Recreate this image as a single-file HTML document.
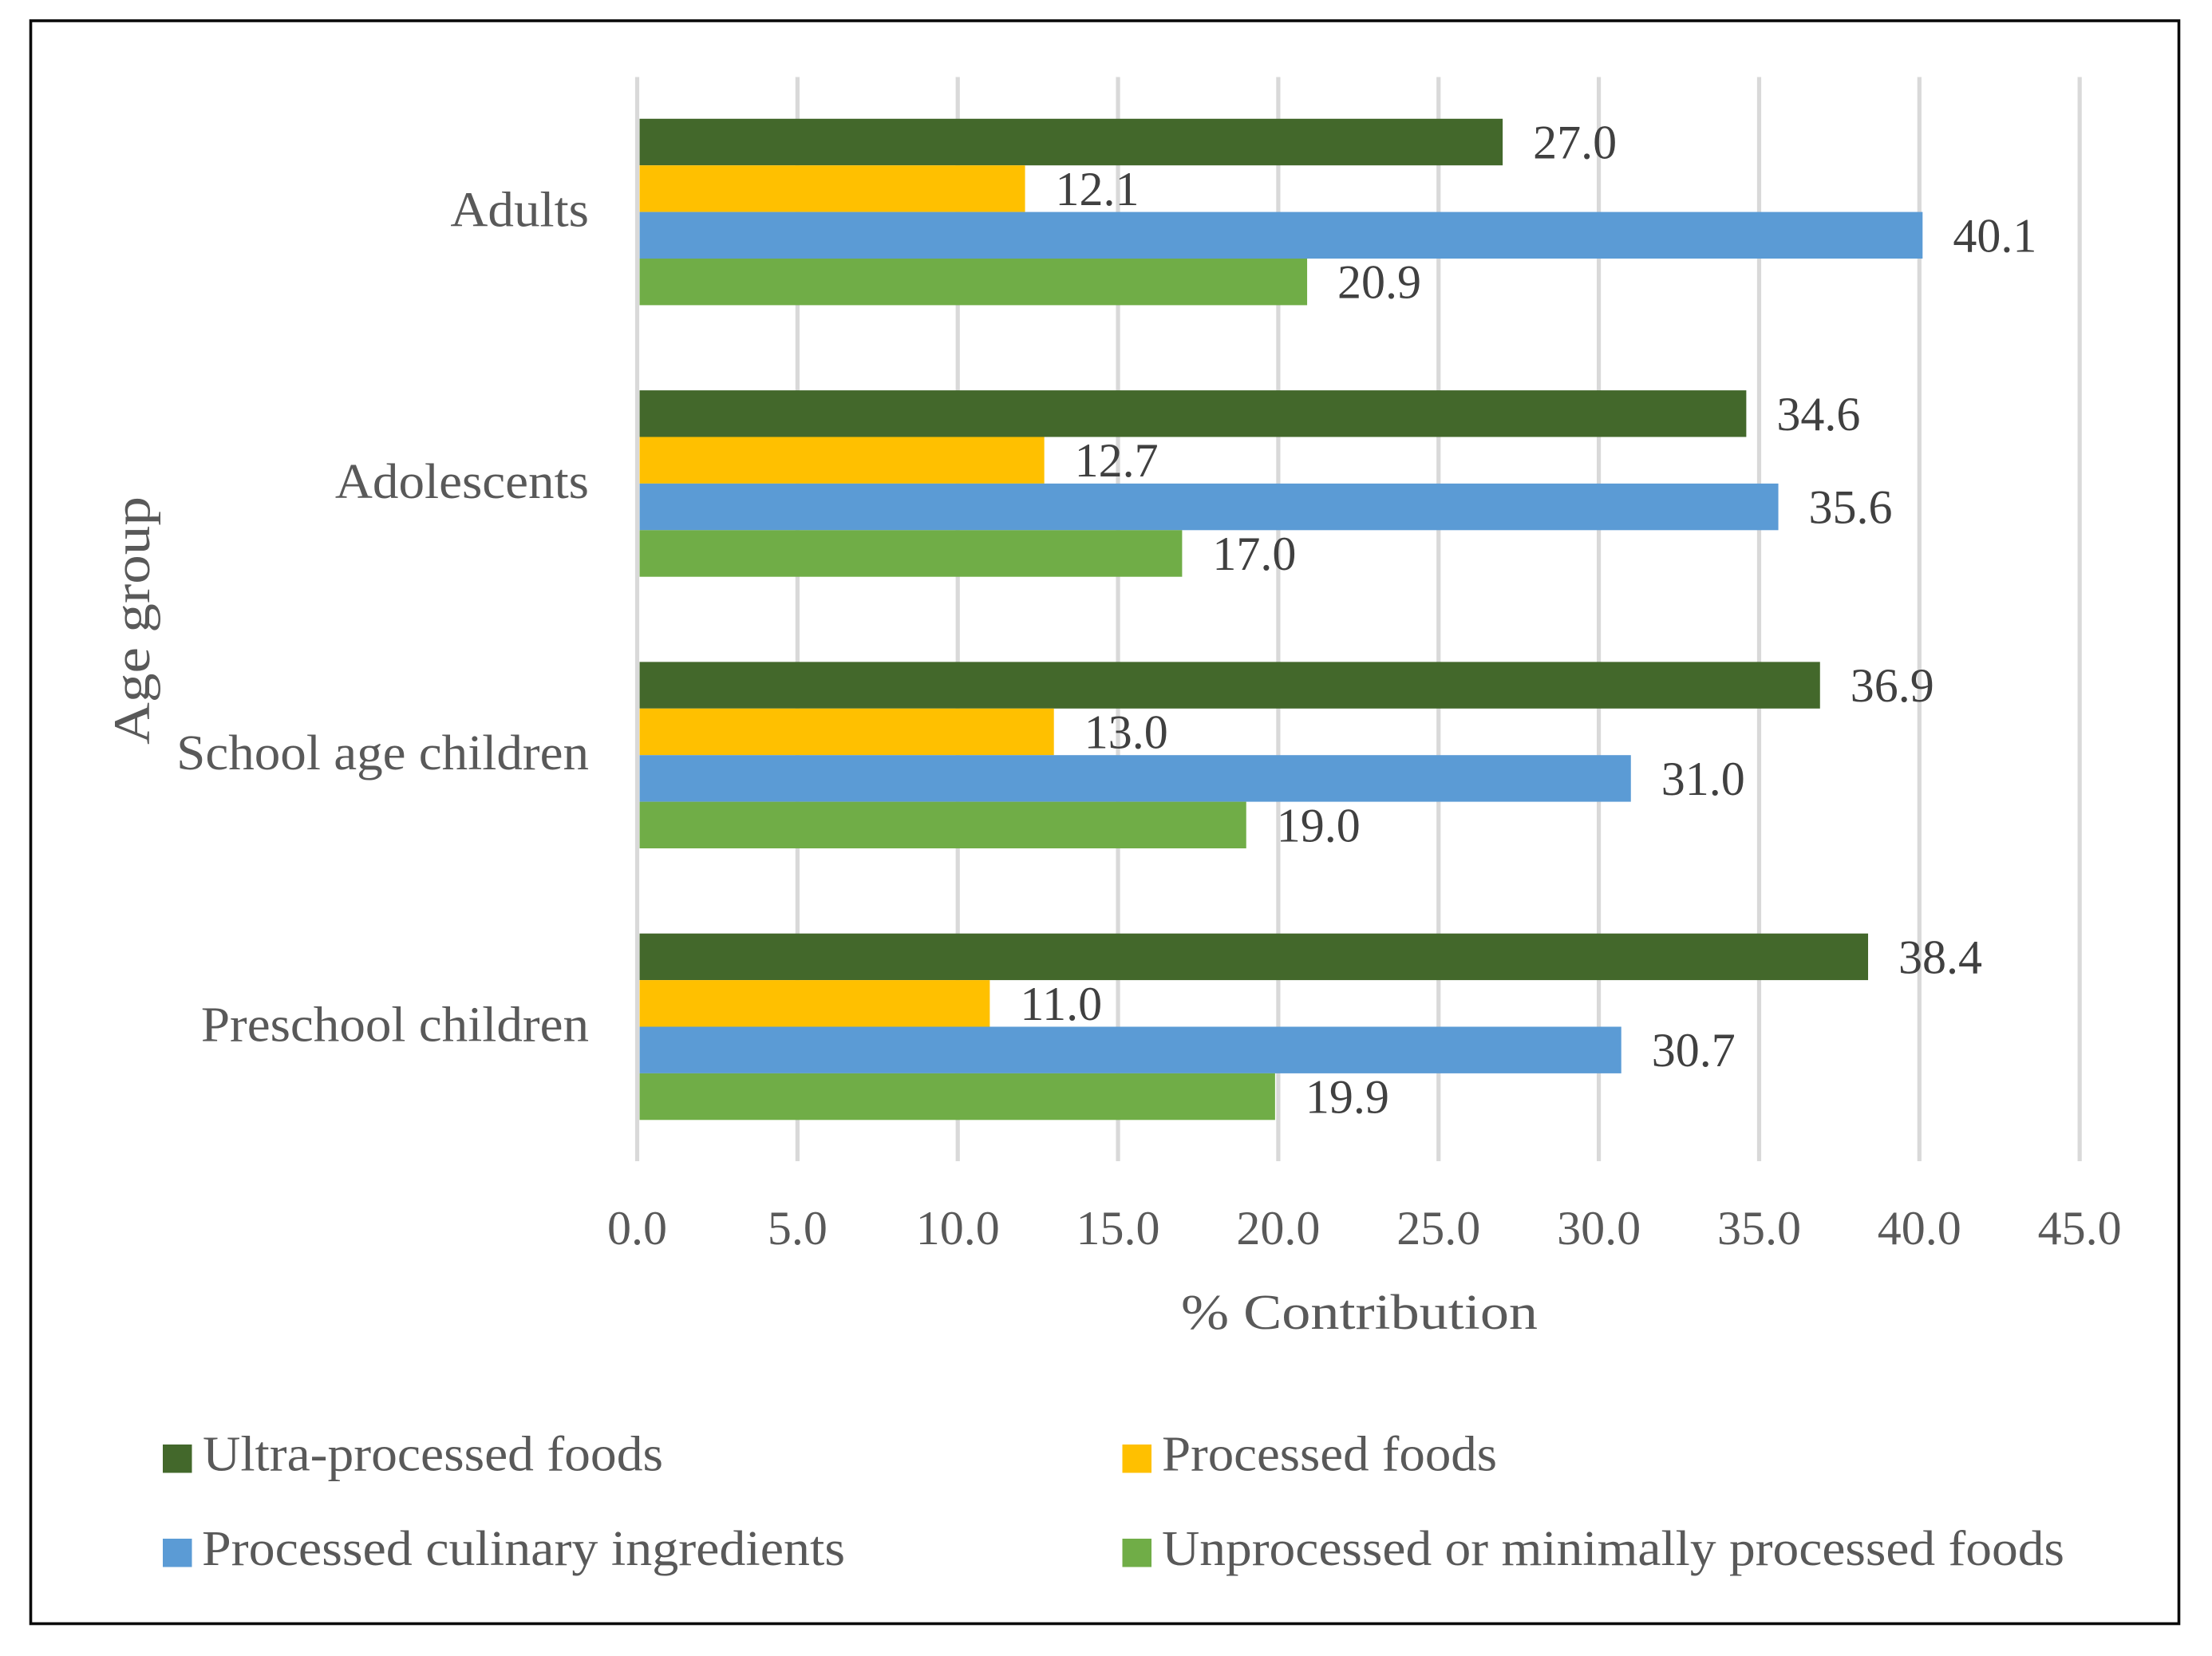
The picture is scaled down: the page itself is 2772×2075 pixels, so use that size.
<!DOCTYPE html>
<html lang="en">
<head>
<meta charset="utf-8">
<title>Percent contribution by age group</title>
<style>
html,body{margin:0;padding:0;background:#fff;}
svg{display:block;}
text{font-family:"Liberation Serif",serif;}
</style>
</head>
<body>
<svg id="chart" xmlns="http://www.w3.org/2000/svg" width="2772" height="2075" viewBox="0 0 2772 2075">
  <rect x="0" y="0" width="2772" height="2075" fill="#ffffff"/>
  <rect x="38.5" y="26" width="2692" height="2008.5" fill="none" stroke="#0a0a0a" stroke-width="3.6"/>
  <g id="grid"></g>
  <g id="bars"></g>
  <g id="values"></g>
  <g id="cats"></g>
  <g id="ticks"></g>
  <text x="1480" y="1665" font-size="62" fill="#595959" textLength="447" lengthAdjust="spacingAndGlyphs">% Contribution</text>
  <text transform="translate(187,933) rotate(-90)" font-size="65" fill="#595959" textLength="311" lengthAdjust="spacingAndGlyphs">Age group</text>
  <g>
    <rect x="204" y="1810" width="36.5" height="35.5" fill="#43682B"/>
    <text x="254" y="1842.5" font-size="62" fill="#595959" textLength="577" lengthAdjust="spacingAndGlyphs">Ultra-processed foods</text>
    <rect x="1406.5" y="1810" width="36.5" height="35.5" fill="#FFC000"/>
    <text x="1456" y="1842.5" font-size="62" fill="#595959" textLength="420" lengthAdjust="spacingAndGlyphs">Processed foods</text>
    <rect x="204" y="1928" width="36.5" height="35.5" fill="#5B9BD5"/>
    <text x="253" y="1961" font-size="62" fill="#595959" textLength="806" lengthAdjust="spacingAndGlyphs">Processed culinary ingredients</text>
    <rect x="1406.5" y="1928" width="36.5" height="35.5" fill="#70AD47"/>
    <text x="1456" y="1961" font-size="62" fill="#595959" textLength="1131" lengthAdjust="spacingAndGlyphs">Unprocessed or minimally processed foods</text>
  </g>
</svg>
<script>
const categories = ["Adults", "Adolescents", "School age children", "Preschool children"];
const ultraProcessed = [27.0, 34.6, 36.9, 38.4];
const processed = [12.1, 12.7, 13.0, 11.0];
const culinary = [40.1, 35.6, 31.0, 30.7];
const unprocessed = [20.9, 17.0, 19.0, 19.9];
const xTicks = [0, 5, 10, 15, 20, 25, 30, 35, 40, 45];

const NS = "http://www.w3.org/2000/svg";
const seriesList = [ultraProcessed, processed, culinary, unprocessed];
const seriesColors = ["#43682B", "#FFC000", "#5B9BD5", "#70AD47"];
const seriesKeys = ["ultra-processed", "processed", "culinary", "unprocessed"];

function xScale(v) { return 798.5 + v * 40.17; }
function groupTop(i) { return 148.8 + i * 340.3; }
const barHeight = 58.4;
const barInset = 3;

const gridG = document.getElementById("grid");
const ticksG = document.getElementById("ticks");
xTicks.forEach(function (t) {
  const line = document.createElementNS(NS, "rect");
  line.setAttribute("x", xScale(t) - 2.6);
  line.setAttribute("y", 96.5);
  line.setAttribute("width", 5.2);
  line.setAttribute("height", 1358.5);
  line.setAttribute("fill", "#D9D9D9");
  
  
  gridG.appendChild(line);

  const label = document.createElementNS(NS, "text");
  label.setAttribute("x", xScale(t));
  label.setAttribute("y", 1559);
  label.setAttribute("text-anchor", "middle");
  label.setAttribute("font-size", 60);
  label.setAttribute("fill", "#595959");
  label.textContent = t.toFixed(1);
  
  
  ticksG.appendChild(label);
});

const barsG = document.getElementById("bars");
const valuesG = document.getElementById("values");
const catsG = document.getElementById("cats");
categories.forEach(function (cat, i) {
  const catLabel = document.createElementNS(NS, "text");
  const catY = groupTop(i) + 2 * barHeight + 18;
  catLabel.setAttribute("transform", "translate(738," + catY + ") scale(1.05,1)");
  catLabel.setAttribute("text-anchor", "end");
  catLabel.setAttribute("font-size", 62);
  catLabel.setAttribute("fill", "#595959");
  catLabel.textContent = cat;
  
  
  catsG.appendChild(catLabel);

  seriesList.forEach(function (series, s) {
    const v = series[i];
    const y = groupTop(i) + s * barHeight;
    const bar = document.createElementNS(NS, "rect");
    bar.setAttribute("x", xScale(0) + barInset);
    bar.setAttribute("y", y);
    bar.setAttribute("width", Math.max(0, xScale(v) - xScale(0) - barInset));
    bar.setAttribute("height", barHeight);
    bar.setAttribute("fill", seriesColors[s]);
    
    
    bar.setAttribute("data-series", seriesKeys[s]);
    barsG.appendChild(bar);

    const val = document.createElementNS(NS, "text");
    val.setAttribute("x", xScale(v) + 38);
    val.setAttribute("y", y + barHeight / 2 + 20.5);
    val.setAttribute("font-size", 60);
    val.setAttribute("fill", "#404040");
    val.textContent = v.toFixed(1);
    
    
    valuesG.appendChild(val);
  });
});
</script>
</body>
</html>
